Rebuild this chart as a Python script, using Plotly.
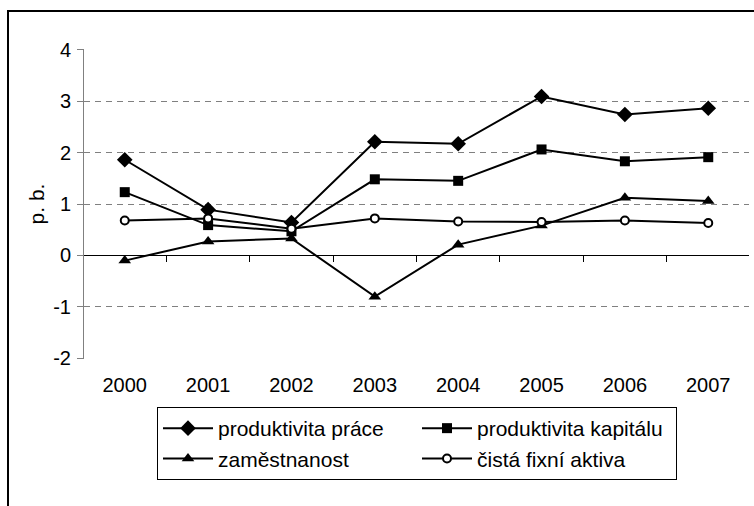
import plotly.graph_objects as go

years = ["2000", "2001", "2002", "2003", "2004", "2005", "2006", "2007"]
produktivita_prace = [1.86, 0.89, 0.64, 2.21, 2.17, 3.09, 2.74, 2.86]
produktivita_kapitalu = [1.23, 0.59, 0.47, 1.48, 1.45, 2.06, 1.83, 1.91]
zamestnanost = [-0.10, 0.27, 0.33, -0.80, 0.21, 0.58, 1.12, 1.06]
cista_fixni_aktiva = [0.68, 0.72, 0.52, 0.72, 0.66, 0.65, 0.68, 0.63]
series_names = ["produktivita práce", "produktivita kapitálu", "zaměstnanost", "čistá fixní aktiva"]
y_ticks = [-2, -1, 0, 1, 2, 3, 4]

W, H = 754, 506
L, R, T, B = 84, 5, 49, 147
pw, ph = W - L - R, H - T - B

FONT = "Liberation Sans, Arial, sans-serif"

fig = go.Figure()
styles = [
    dict(symbol="diamond", size=12, color="black", line=dict(color="black", width=0)),
    dict(symbol="square", size=10, color="black", line=dict(color="black", width=0)),
    dict(symbol="triangle-up", size=11, color="black", line=dict(color="black", width=0)),
    dict(symbol="circle", size=8, color="white", line=dict(color="black", width=2)),
]
for name, vals, mk in zip(series_names,
                          [produktivita_prace, produktivita_kapitalu, zamestnanost, cista_fixni_aktiva],
                          styles):
    fig.add_trace(go.Scatter(x=years, y=vals, mode="lines+markers", name=name,
                             line=dict(color="black", width=2), marker=mk))

fig.update_layout(
    width=W, height=H,
    margin=dict(l=L, r=R, t=T, b=B, autoexpand=False),
    paper_bgcolor="white", plot_bgcolor="white",
    font=dict(family=FONT, size=20, color="black"),
    showlegend=True,
    legend=dict(orientation="h", xref="container", yref="container",
                x=157 / W, y=1 - 407 / H,
                xanchor="left", yanchor="top",
                bgcolor="white", bordercolor="black", borderwidth=1,
                itemwidth=50,
                entrywidth=194, entrywidthmode="pixels",
                font=dict(family=FONT, size=21, color="black"),
                traceorder="normal"),
    shapes=[dict(type="rect", xref="paper", yref="paper",
                 x0=(8 - L) / pw, x1=(W + 20 - L) / pw,
                 y0=(T + ph - (H + 20)) / ph, y1=(T + ph - 11) / ph,
                 line=dict(color="black", width=2), fillcolor="rgba(0,0,0,0)", layer="below")],
)

fig.update_yaxes(range=[-2.012, 4.012], tickvals=y_ticks, ticktext=[str(v) for v in y_ticks],
                 automargin=False,
                 showline=True, linecolor="#808080", linewidth=1,
                 ticks="outside", ticklen=6, tickcolor="#808080",
                 ticklabelstandoff=2,
                 showgrid=True, gridcolor="#808080", gridwidth=1, griddash="6px,5px",
                 zeroline=True, zerolinecolor="black", zerolinewidth=1,
                 tickfont=dict(family=FONT, size=20, color="black"),
                 title=dict(text="p. b.", font=dict(family=FONT, size=21, color="black"), standoff=2),
                 fixedrange=True)
fig.update_xaxes(type="category", categoryorder="array", categoryarray=years,
                 automargin=False,
                 anchor="free", position=2.012 / 6.024,
                 showline=True, linecolor="black", linewidth=1,
                 ticks="outside", tickson="boundaries", ticklen=6, tickcolor="black",
                 ticklabelstandoff=112,
                 showgrid=False, zeroline=False,
                 tickfont=dict(family=FONT, size=20, color="black"),
                 fixedrange=True)

fig.write_html("out.html", config={"displayModeBar": False},
               post_script="document.body.style.margin='0';")
